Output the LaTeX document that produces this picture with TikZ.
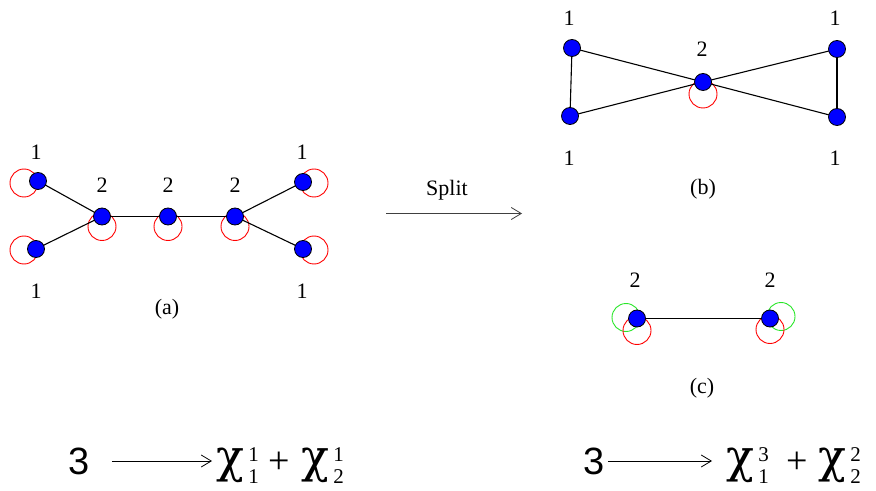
\documentclass[tikz,border=0pt]{standalone}
\usepackage{fontspec}
\setmainfont{Liberation Serif}
\newfontfamily\helv{Liberation Sans}
\newfontfamily\greekchi{DejaVu Serif}
\usetikzlibrary{arrows.meta,calc,positioning,backgrounds}
\definecolor{brightgreen}{RGB}{40,230,40}

% chi with stacked upper and lower index
\newcommand\chiterm[2]{{\fontsize{23}{25}\greekchi χ}\kern2pt\rlap{\raisebox{5.5pt}{\fontsize{10.5}{11}\selectfont #1}}\raisebox{-5.5pt}{\fontsize{10.5}{11}\selectfont #2}}

\tikzset{
  vtx/.style={circle,draw=black,fill=blue,minimum size=8.5pt,inner sep=0pt,line width=0.4pt},
  lab/.style={font=\fontsize{11}{12}\selectfont,inner sep=0pt},
  loopr/.style={draw=red,line width=0.45pt},
  loopg/.style={draw=brightgreen,line width=0.45pt},
  edge/.style={line width=0.55pt},
  arr/.style={-{Straight Barb[length=5pt,width=6pt]},line width=0.4pt},
  big/.style={font=\fontsize{19}{22}\helv,inner sep=0pt},
  plus/.style={font=\fontsize{19}{20}\selectfont,inner sep=0pt}
}

\begin{document}
\begin{tikzpicture}[x=0.5pt,y=-0.5pt]
\useasboundingbox (0,0) rectangle (876,491);

% (a)
\node[vtx] (al1) at (38,181) {};
\node[vtx] (al2) at (36,249) {};
\node[vtx] (am1) at (102,216.5) {};
\node[vtx] (am2) at (168,216.5) {};
\node[vtx] (am3) at (235,216.5) {};
\node[vtx] (ar1) at (303,182) {};
\node[vtx] (ar2) at (303,249) {};
\node[lab] (tal1) at (36,152) {1};
\node[lab] (tal2) at (36,291) {1};
\node[lab] (tam1) at (102,185) {2};
\node[lab] (tam2) at (168,185) {2};
\node[lab] (tam3) at (235,185) {2};
\node[lab] (tar1) at (302,152) {1};
\node[lab] (tar2) at (302,291) {1};
\node[lab] (capa) at (167,309) {(a)};

% (b)
\node[vtx] (btl) at (572,48) {};
\node[vtx] (bbl) at (570,116) {};
\node[vtx] (bc) at (703,82) {};
\node[vtx] (btr) at (837,49) {};
\node[vtx] (bbr) at (837,117) {};
\node[lab] (tbtl) at (569,18) {1};
\node[lab] (tbbl) at (569,158) {1};
\node[lab] (tbc) at (702,49) {2};
\node[lab] (tbtr) at (835,18) {1};
\node[lab] (tbbr) at (835,158) {1};
\node[lab] (capb) at (703,189) {(b)};

% (c)
\node[vtx] (cl) at (637,318.5) {};
\node[vtx] (cr) at (770,318.5) {};
\node[lab] (tcl) at (635,280) {2};
\node[lab] (tcr) at (770,280) {2};
\node[lab] (capc) at (702,388) {(c)};

% split arrow
\coordinate (sp0) at (386,213.5);
\coordinate (sp1) at (522,213.5);
\draw[arr,draw=black!75] (sp0) -- (sp1);
\node[lab,anchor=base] (split) at (447,196) {Split};

% formulas
\node[big] (t1) at (79,461) {3};
\node[inner sep=0pt,anchor=base west] (c1) at (216,472) {\chiterm{1}{1}};
\node[plus] (p1) at (279,463) {+};
\node[inner sep=0pt,anchor=base west] (c2) at (301,472) {\chiterm{1}{2}};
\draw[arr,shorten <=11pt,shorten >=2pt] (t1.east) -- (t1.east -| c1.west);
\node[big] (t2) at (594,461) {3};
\node[inner sep=0pt,anchor=base west] (c3) at (726,472) {\chiterm{3}{1}};
\node[plus] (p2) at (797,463) {+};
\node[inner sep=0pt,anchor=base west] (c4) at (818,472) {\chiterm{2}{2}};
\draw[arr,shorten <=1.5pt,shorten >=7pt] (t2.east) -- (t2.east -| c3.west);

\begin{scope}[on background layer]
\draw[loopr] ($(al1)+(-14,2)$) circle (7pt);
\draw[loopr] ($(al2)+(-12,1)$) circle (7pt);
\draw[loopr] ($(ar1)+(11,1)$) circle (7pt);
\draw[loopr] ($(ar2)+(11,1)$) circle (7pt);
\foreach \v in {am1,am2,am3}
  \draw[loopr] ($(\v)+(0,10)$) circle (7pt);
\draw[loopr] ($(bc)+(0,12)$) circle (7pt);
\draw[loopg] ($(cl)+(-11,-1)$) circle (7pt);
\draw[loopr] ($(cl)+(0,12)$) circle (7pt);
\draw[loopg] ($(cr)+(11,-2)$) circle (7pt);
\draw[loopr] ($(cr)+(0,11)$) circle (7pt);
\draw[edge] (al1.center) -- (am1.center) -- (al2.center);
\draw[edge] (am1.center) -- (am2.center) -- (am3.center);
\draw[edge] (ar1.center) -- (am3.center) -- (ar2.center);
\draw[edge] (btl.center) -- (bc.center) -- (bbr.center);
\draw[edge] (bbl.center) -- (bc.center) -- (btr.center);
\draw[edge] (btl.center) -- (bbl.center);
\draw[edge] (btr.center) -- (bbr.center);
\draw[edge] (cl.center) -- (cr.center);
\end{scope}
\end{tikzpicture}
\end{document}
